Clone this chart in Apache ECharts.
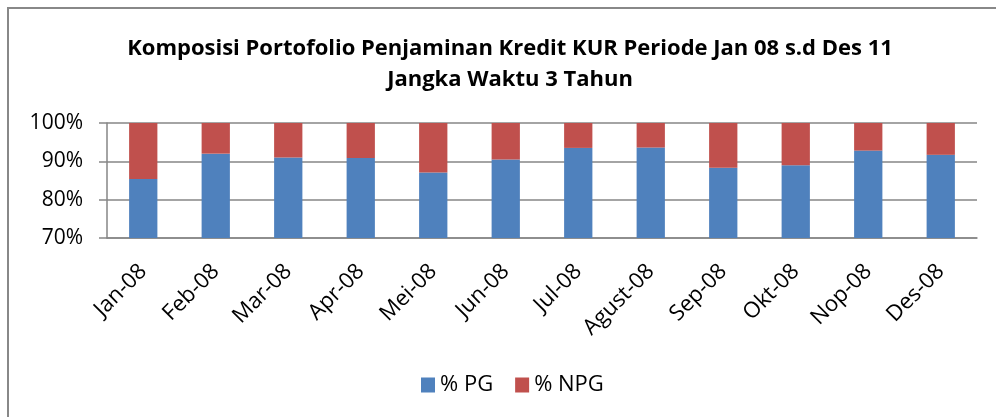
<!DOCTYPE html>
<html>
<head>
<meta charset="utf-8">
<script src="https://cdn.jsdelivr.net/npm/echarts@6/dist/echarts.min.js"></script>
<style>
  html, body { margin: 0; padding: 0; background: #fff; }
  #chart { width: 996px; height: 417px; }
</style>
</head>
<body>
<div id="chart"></div>
<script>
// bulan
const months = ['Jan-08', 'Feb-08', 'Mar-08', 'Apr-08', 'Mei-08', 'Jun-08',
  'Jul-08', 'Agust-08', 'Sep-08', 'Okt-08', 'Nop-08', 'Des-08']

// komposisi (%)
const pg = [85.4, 92.0, 91.0, 90.9, 87.1, 90.5, 93.5, 93.6, 88.3, 89.0, 92.8, 91.7]
const npg = [14.6, 8.0, 9.0, 9.1, 12.9, 9.5, 6.5, 6.4, 11.7, 11.0, 7.2, 8.3]

const yTicks = [70, 80, 90, 100]

const font = '"Open Sans", "Noto Sans", sans-serif'
const grey = '#868686'

const chart = echarts.init(document.getElementById('chart'))

chart.setOption({
  animation: false,
  textStyle: { fontFamily: font },
  title: {
    text: 'Komposisi Portofolio Penjaminan Kredit KUR Periode Jan 08 s.d Des 11\nJangka Waktu 3 Tahun',
    left: 505,
    textAlign: 'center',
    top: 28,
    textStyle: { fontSize: 22, fontWeight: 'bold', color: '#000', lineHeight: 31, fontFamily: font }
  },
  legend: {
    bottom: 16,
    left: 416,
    itemWidth: 14,
    itemHeight: 15,
    itemGap: 22,
    icon: 'rect',
    textStyle: { fontSize: 22, color: '#000', fontFamily: font }
  },
  grid: { left: 107, right: 19, top: 123, bottom: 179 },
  xAxis: {
    type: 'category',
    data: months,
    axisLine: { lineStyle: { color: grey, width: 1.5 } },
    axisTick: { length: 6, lineStyle: { color: grey, width: 1.5 } },
    axisLabel: { rotate: 45, fontSize: 22, color: '#000', margin: 30, fontFamily: font }
  },
  yAxis: {
    type: 'value',
    min: yTicks[0],
    max: yTicks[yTicks.length - 1],
    interval: 10,
    axisLine: { show: true, lineStyle: { color: grey, width: 1.5 } },
    axisTick: { show: true, length: 8, lineStyle: { color: grey, width: 1.5 } },
    axisLabel: { formatter: '{value}%', fontSize: 21, color: '#000', margin: 24, fontFamily: font },
    splitLine: { lineStyle: { color: grey, width: 1.5 } }
  },
  series: [
    {
      name: '% PG',
      type: 'bar',
      stack: 'total',
      data: pg,
      barWidth: '39%',
      itemStyle: { color: '#4F81BD' }
    },
    {
      name: '% NPG',
      type: 'bar',
      stack: 'total',
      data: npg,
      barWidth: '39%',
      itemStyle: { color: '#C0504D' }
    }
  ],
  graphic: [{
    type: 'rect',
    shape: { x: 8, y: 8, width: 1000, height: 420 },
    style: { fill: 'none', stroke: '#888', lineWidth: 2 },
    silent: true
  }]
})
</script>
</body>
</html>
